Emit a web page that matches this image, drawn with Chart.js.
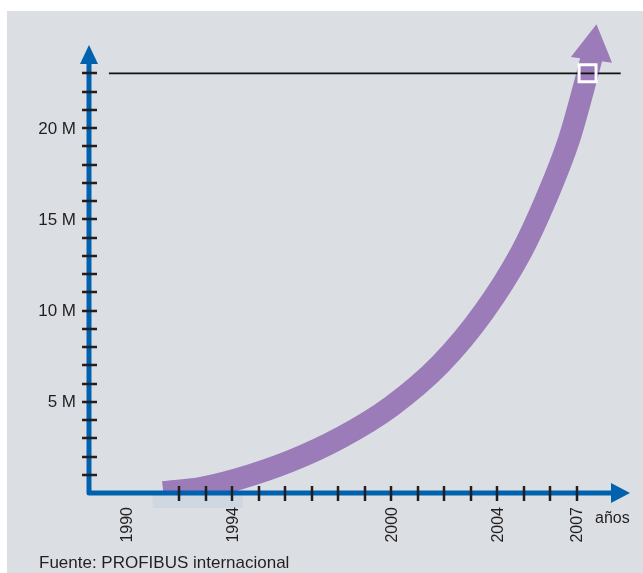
<!DOCTYPE html>
<html lang="es">
<head>
<meta charset="utf-8" />
<script src="https://cdn.jsdelivr.net/npm/chart.js@4.4.1/dist/chart.umd.min.js"></script>
<style>
    html, body { margin: 0; padding: 0; background: #fff; }
    #grafico { position: absolute; left: 0; top: 0; }
</style>
<title>PROFIBUS</title>
</head>
<body>
<canvas id="grafico" width="643" height="573"></canvas>
<script>
// eje central de la flecha de crecimiento (años, millones de dispositivos)
const anios = [1991.4, 1992.8, 1994.3, 1996.2, 1998.1, 2000.0, 2001.85, 2003.5, 2004.9, 2005.8, 2006.7, 2007.4, 2007.57];
const millones = [0.05, 0.27, 0.8, 1.75, 3.04, 4.75, 7.06, 9.95, 13.2, 16.0, 19.36, 23.0, 23.95];
// punta de la flecha
const puntaAnio = [2007.61];
const puntaValor = [24.39];
// marca blanca en 2007
const marcaAnio = [2007.4];
const marcaValor = [23];
// linea horizontal de 23 M
const lineaAnios = [1989.35, 2008.65];
const lineaValor = [23, 23];
// ejes
const rangoX = [1988.6, 2009.0];
const rangoY = [0, 24.55];
const ticksX = [1992, 1993, 1994, 1995, 1996, 1997, 1998, 1999, 2000, 2001, 2002, 2003, 2004, 2005, 2006, 2007];
const ticksY = [1, 2, 3, 4, 5, 6, 7, 8, 9, 10, 11, 12, 13, 14, 15, 16, 17, 18, 19, 20, 21, 22, 23];
const etiquetasX = ["1990", "1994", "2000", "2004", "2007"];
const etiquetasY = [5, 10, 15, 20];
const franjaX = [1991.0, 1994.4];

const morado = "#9b7bb8";
const azul = "#0061ae";
const fuente = '"Liberation Sans", Arial, sans-serif';

const pares = (xs, ys) => xs.map((x, i) => ({ x: x, y: ys[i] }));

const decoracion = {
    id: "decoracion",
    beforeDraw(chart) {
        const ctx = chart.ctx;
        ctx.save();
        ctx.fillStyle = "#fff";
        ctx.fillRect(0, 0, chart.width, chart.height);
        ctx.fillStyle = "#dbdfe3";
        ctx.fillRect(7, 11, chart.width - 7, chart.height - 11);
        ctx.restore();
    },
    beforeDatasetsDraw(chart) {
        const ctx = chart.ctx;
        const x = chart.scales.x, y = chart.scales.y;
        const y0 = y.getPixelForValue(0);
        ctx.save();
        ctx.fillStyle = "#cfd7e0";
        const a = x.getPixelForValue(franjaX[0]), b = x.getPixelForValue(franjaX[1]);
        ctx.fillRect(a, y0 + 1, b - a, 14);
        ctx.restore();
    },
    afterDatasetsDraw(chart) {
        const ctx = chart.ctx;
        const x = chart.scales.x, y = chart.scales.y;
        const area = chart.chartArea;
        const x0 = x.getPixelForValue(rangoX[0]);
        const y0 = y.getPixelForValue(0);
        ctx.save();
        // ejes con flechas
        ctx.strokeStyle = azul;
        ctx.fillStyle = azul;
        ctx.lineWidth = 5;
        ctx.lineJoin = "round";
        ctx.beginPath();
        ctx.moveTo(x0, area.top + 18);
        ctx.lineTo(x0, y0);
        ctx.lineTo(area.right - 18, y0);
        ctx.stroke();
        ctx.beginPath();
        ctx.moveTo(x0 - 9, area.top + 19);
        ctx.lineTo(x0 + 9, area.top + 19);
        ctx.lineTo(x0, area.top);
        ctx.closePath();
        ctx.fill();
        ctx.beginPath();
        ctx.moveTo(area.right - 19, y0 - 10);
        ctx.lineTo(area.right - 19, y0 + 10);
        ctx.lineTo(area.right, y0);
        ctx.closePath();
        ctx.fill();
        // marcas
        ctx.strokeStyle = "#231f20";
        ctx.lineWidth = 2.5;
        ctx.beginPath();
        ticksY.forEach((v) => {
            const p = Math.round(y.getPixelForValue(v));
            ctx.moveTo(x0 - 7, p);
            ctx.lineTo(x0 + 8, p);
        });
        ticksX.forEach((v) => {
            const p = Math.round(x.getPixelForValue(v));
            ctx.moveTo(p, y0 - 7);
            ctx.lineTo(p, y0 + 8);
        });
        ctx.stroke();
        // etiquetas
        ctx.fillStyle = "#231f20";
        ctx.font = "17px " + fuente;
        ctx.textAlign = "right";
        ctx.textBaseline = "middle";
        etiquetasY.forEach((v) => {
            ctx.fillText(v + " M", x0 - 13, y.getPixelForValue(v) + 1);
        });
        ctx.font = "16px " + fuente;
        etiquetasX.forEach((t) => {
            ctx.save();
            ctx.translate(x.getPixelForValue(Number(t)) + 1, y0 + 14);
            ctx.rotate(-Math.PI / 2);
            ctx.fillText(t, 0, 0);
            ctx.restore();
        });
        ctx.textAlign = "left";
        ctx.textBaseline = "alphabetic";
        ctx.fillText("años", area.right - 35, y0 + 30);
        ctx.font = "17px " + fuente;
        ctx.fillText("Fuente: PROFIBUS internacional", 39, 568);
        ctx.restore();
    }
};

new Chart(document.getElementById("grafico").getContext("2d"), {
    type: "line",
    data: {
        datasets: [
            {
                label: "marca",
                data: pares(marcaAnio, marcaValor),
                showLine: false,
                pointStyle: "rect",
                pointRadius: 12,
                pointBorderWidth: 3,
                pointBorderColor: "#fff",
                pointBackgroundColor: "rgba(0,0,0,0)",
                clip: false
            },
            {
                label: "23 M",
                data: pares(lineaAnios, lineaValor),
                borderColor: "#111",
                borderWidth: 1.8,
                pointRadius: 0,
                clip: false
            },
            {
                label: "punta",
                data: pares(puntaAnio, puntaValor),
                showLine: false,
                pointStyle: "triangle",
                pointRadius: 24,
                rotation: 8,
                pointBorderWidth: 0,
                pointBackgroundColor: morado,
                clip: false
            },
            {
                label: "dispositivos",
                data: pares(anios, millones),
                borderColor: morado,
                borderWidth: 22,
                borderCapStyle: "butt",
                cubicInterpolationMode: "monotone",
                pointRadius: 0,
                clip: { left: 30, top: 30, right: 30, bottom: 0 }
            }
        ]
    },
    options: {
        responsive: false,
        animation: false,
        events: [],
        layout: { autoPadding: false, padding: { left: 89, right: 13, top: 45, bottom: 80 } },
        scales: {
            x: { type: "linear", min: rangoX[0], max: rangoX[1], display: false },
            y: { min: rangoY[0], max: rangoY[1], display: false }
        },
        plugins: { legend: { display: false }, tooltip: { enabled: false } }
    },
    plugins: [decoracion]
});
</script>
</body>
</html>
